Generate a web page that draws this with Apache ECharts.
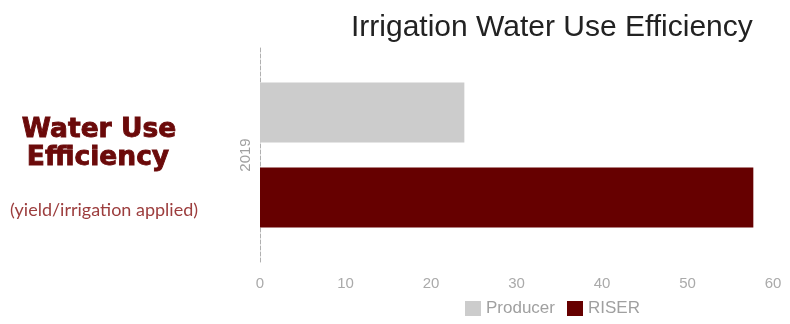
<!DOCTYPE html>
<html>
<head>
<meta charset="utf-8">
<script src="https://cdn.jsdelivr.net/npm/echarts@6/dist/echarts.min.js"></script>
<style>html,body{margin:0;padding:0;background:#fff}#c{width:790px;height:324px}</style>
</head>
<body>
<div id="c"></div>
<script>
const categories = ['2019'];
const seriesNames = ['Producer', 'RISER'];
const producerValues = [23.9];
const riserValues = [57.7];
const xTicks = [0, 10, 20, 30, 40, 50, 60];

const chart = echarts.init(document.getElementById('c'));
chart.setOption({
  animation: false,
  backgroundColor: '#ffffff',
  title: {
    text: 'Irrigation Water Use Efficiency',
    left: 346, top: 8,
    textStyle: { fontFamily: 'Liberation Sans', fontSize: 30, fontWeight: 'normal', color: '#222222' }
  },
  graphic: [
    { type: 'text', x: 99, y: 130, style: { text: 'Water Use', x: 0, y: 0, align: 'center', verticalAlign: 'middle', fontFamily: 'DejaVu Sans', fontWeight: 'bold', fontSize: 26.5, fill: '#6b0a0a', stroke: '#6b0a0a', lineWidth: 0.9 } },
    { type: 'text', x: 98, y: 158, style: { text: 'Efficiency', x: 0, y: 0, align: 'center', verticalAlign: 'middle', fontFamily: 'DejaVu Sans', fontWeight: 'bold', fontSize: 26.5, fill: '#6b0a0a', stroke: '#6b0a0a', lineWidth: 0.9 } },
    { type: 'text', x: 104, y: 210, style: { text: '(yield/irrigation applied)', x: 0, y: 0, align: 'center', verticalAlign: 'middle', fontFamily: 'Lato', fontSize: 18, fill: '#9c3d3d' } }
  ],
  legend: {
    data: seriesNames,
    bottom: 2, left: 460,
    itemWidth: 16, itemHeight: 15, itemGap: 12,
    icon: 'rect',
    textStyle: { fontFamily: 'Liberation Sans', fontSize: 17, color: '#a0a0a0', padding: [0, 0, 0, 0] }
  },
  grid: { left: 260, right: 17, top: 48, bottom: 62, containLabel: false },
  xAxis: {
    type: 'value', min: xTicks[0], max: xTicks[xTicks.length - 1], interval: 10,
    axisLine: { show: false }, axisTick: { show: false }, splitLine: { show: false },
    axisLabel: { fontFamily: 'Liberation Sans', fontSize: 15, color: '#aaaaaa', margin: 14 }
  },
  yAxis: {
    type: 'category', data: categories,
    axisLine: { show: true, lineStyle: { color: '#b0b0b0', type: 'dashed', width: 1 } },
    axisTick: { show: false },
    axisLabel: { rotate: 90, fontFamily: 'Liberation Sans', fontSize: 15, color: '#a0a0a0', margin: 7 }
  },
  series: [
    { name: seriesNames[0], type: 'bar', data: producerValues, barWidth: 60, barGap: '42%', itemStyle: { color: '#cccccc' } },
    { name: seriesNames[1], type: 'bar', data: riserValues, barWidth: 60, barGap: '42%', itemStyle: { color: '#660000' } }
  ]
});
</script>
</body>
</html>
